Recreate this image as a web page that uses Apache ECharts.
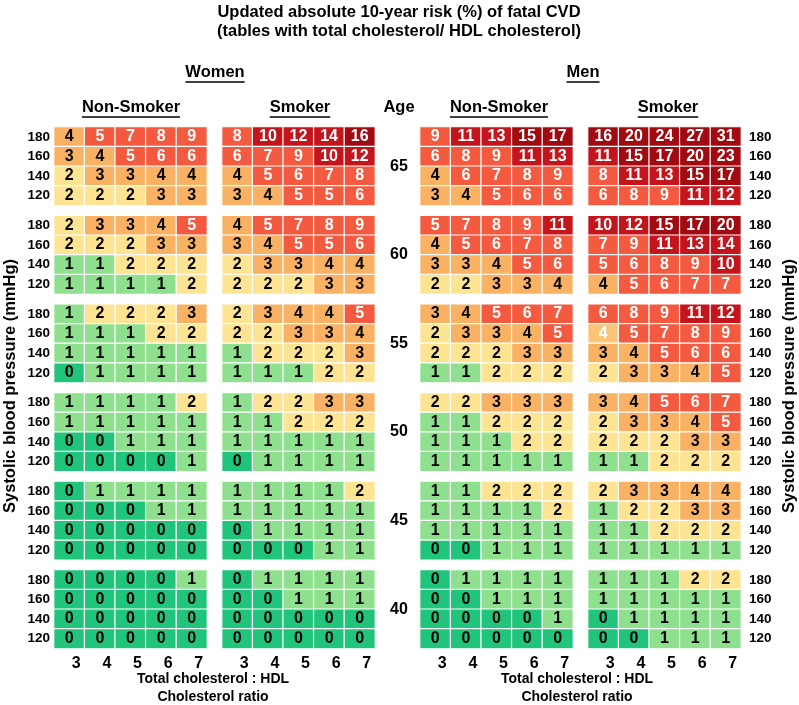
<!DOCTYPE html>
<html><head><meta charset="utf-8">
<script src="https://cdn.jsdelivr.net/npm/echarts/dist/echarts.min.js"></script>
<style>html,body{margin:0;padding:0;background:#fff}#c{width:799px;height:705px}</style>
</head><body><div id="c"></div>
<script>
// ---------- DATA ----------
const ages = ['65', '60', '55', '50', '45', '40'];
const sbpLevels = ['120', '140', '160', '180'];          // y axis, bottom to top
const ratios = ['3', '4', '5', '6', '7'];                // x axis
// each table: rows top to bottom = SBP 180, 160, 140, 120; columns = ratio 3..7
const womenNonSmoker65 = [[4,5,7,8,9],[3,4,5,6,6],[2,3,3,4,4],[2,2,2,3,3]];
const womenNonSmoker60 = [[2,3,3,4,5],[2,2,2,3,3],[1,1,2,2,2],[1,1,1,1,2]];
const womenNonSmoker55 = [[1,2,2,2,3],[1,1,1,2,2],[1,1,1,1,1],[0,1,1,1,1]];
const womenNonSmoker50 = [[1,1,1,1,2],[1,1,1,1,1],[0,0,1,1,1],[0,0,0,0,1]];
const womenNonSmoker45 = [[0,1,1,1,1],[0,0,0,1,1],[0,0,0,0,0],[0,0,0,0,0]];
const womenNonSmoker40 = [[0,0,0,0,1],[0,0,0,0,0],[0,0,0,0,0],[0,0,0,0,0]];

const womenSmoker65 = [[8,10,12,14,16],[6,7,9,10,12],[4,5,6,7,8],[3,4,5,5,6]];
const womenSmoker60 = [[4,5,7,8,9],[3,4,5,5,6],[2,3,3,4,4],[2,2,2,3,3]];
const womenSmoker55 = [[2,3,4,4,5],[2,2,3,3,4],[1,2,2,2,3],[1,1,1,2,2]];
const womenSmoker50 = [[1,2,2,3,3],[1,1,2,2,2],[1,1,1,1,1],[0,1,1,1,1]];
const womenSmoker45 = [[1,1,1,1,2],[1,1,1,1,1],[0,1,1,1,1],[0,0,0,1,1]];
const womenSmoker40 = [[0,1,1,1,1],[0,0,1,1,1],[0,0,0,0,0],[0,0,0,0,0]];

const menNonSmoker65 = [[9,11,13,15,17],[6,8,9,11,13],[4,6,7,8,9],[3,4,5,6,6]];
const menNonSmoker60 = [[5,7,8,9,11],[4,5,6,7,8],[3,3,4,5,6],[2,2,3,3,4]];
const menNonSmoker55 = [[3,4,5,6,7],[2,3,3,4,5],[2,2,2,3,3],[1,1,2,2,2]];
const menNonSmoker50 = [[2,2,3,3,3],[1,1,2,2,2],[1,1,1,2,2],[1,1,1,1,1]];
const menNonSmoker45 = [[1,1,2,2,2],[1,1,1,1,2],[1,1,1,1,1],[0,0,1,1,1]];
const menNonSmoker40 = [[0,1,1,1,1],[0,0,1,1,1],[0,0,0,0,1],[0,0,0,0,0]];

const menSmoker65 = [[16,20,24,27,31],[11,15,17,20,23],[8,11,13,15,17],[6,8,9,11,12]];
const menSmoker60 = [[10,12,15,17,20],[7,9,11,13,14],[5,6,8,9,10],[4,5,6,7,7]];
const menSmoker55 = [[6,8,9,11,12],[4,5,7,8,9],[3,4,5,6,6],[2,3,3,4,5]];
const menSmoker50 = [[3,4,5,6,7],[2,3,3,4,5],[2,2,2,3,3],[1,1,2,2,2]];
const menSmoker45 = [[2,3,3,4,4],[1,2,2,3,3],[1,1,2,2,2],[1,1,1,1,1]];
const menSmoker40 = [[1,1,1,2,2],[1,1,1,1,1],[0,1,1,1,1],[0,0,1,1,1]];

const panelTables = [
  [womenNonSmoker65, womenNonSmoker60, womenNonSmoker55, womenNonSmoker50, womenNonSmoker45, womenNonSmoker40],
  [womenSmoker65, womenSmoker60, womenSmoker55, womenSmoker50, womenSmoker45, womenSmoker40],
  [menNonSmoker65, menNonSmoker60, menNonSmoker55, menNonSmoker50, menNonSmoker45, menNonSmoker40],
  [menSmoker65, menSmoker60, menSmoker55, menSmoker50, menSmoker45, menSmoker40]
];

// ---------- STYLE / LAYOUT ----------
const FONT = '"Liberation Sans", Arial, Helvetica, sans-serif';
const panelLeft = [54, 222, 420, 588];
const panelWidth = 153;
const blockTop0 = 127, blockStep = 88.6, blockHeight = 78.5;

function cellColor(v) {
  if (v <= 0) return '#21C47B';
  if (v === 1) return '#8FE08E';
  if (v === 2) return '#FCE493';
  if (v <= 4) return '#F9B263';
  if (v <= 9) return '#F45A3F';
  if (v <= 14) return '#C3151B';
  return '#A00A10';
}

const grids = [], xAxes = [], yAxes = [], series = [];
panelTables.forEach((tables, p) => {
  tables.forEach((table, b) => {
    const i = p * 6 + b;
    const top = blockTop0 + b * blockStep;
    grids.push({left: panelLeft[p], top: top, width: panelWidth, height: blockHeight});
    xAxes.push({
      gridIndex: i, type: 'category', data: ratios,
      axisLine: {show: false}, axisTick: {show: false}, splitLine: {show: false},
      axisLabel: {show: b === 5, margin: 7, color: '#000', fontSize: 16, fontWeight: 'bold',
                  fontFamily: FONT, padding: [0, 0, 0, 14]}
    });
    yAxes.push({
      gridIndex: i, type: 'category', data: sbpLevels, position: p === 3 ? 'right' : 'left',
      axisLine: {show: false}, axisTick: {show: false}, splitLine: {show: false},
      axisLabel: {show: p === 0 || p === 3, margin: p === 0 ? 4 : 8, color: '#000',
                  fontSize: 13.5, fontWeight: 'bold', fontFamily: FONT}
    });
    const items = [];
    table.forEach((row, r) => {
      row.forEach((v, c) => {
        let col = cellColor(v);
        let txt = v >= 5 ? '#fff' : '#000';
        if (p === 3 && b === 2 && r === 1 && c === 0) { col = '#FAC577'; txt = '#fff'; }
        items.push({value: [c, 3 - r, v], itemStyle: {color: col}, label: {color: txt}});
      });
    });
    series.push({
      type: 'heatmap', xAxisIndex: i, yAxisIndex: i, data: items,
      label: {show: true, fontSize: 16, fontWeight: 'bold', fontFamily: FONT,
              formatter: (pr) => String(pr.value[2])},
      itemStyle: {borderColor: '#fff', borderWidth: 1.2},
      emphasis: {disabled: true}, silent: true
    });
  });
});

// text helpers
const mctx = document.createElement('canvas').getContext('2d');
function tw(text, font) { mctx.font = font; return mctx.measureText(text).width; }
const graphics = [];
function addText(text, x, y, size, underline) {
  const font = 'bold ' + size + 'px ' + FONT;
  graphics.push({type: 'text', x: x, y: y, silent: true,
    style: {text: text, x: 0, y: 0, font: font, fill: '#000',
            align: 'center', verticalAlign: 'middle', textAlign: 'center', textVerticalAlign: 'middle'}});
  if (underline) {
    const w = tw(text, font);
    graphics.push({type: 'line', silent: true,
      shape: {x1: x - w / 2, y1: y + size * 0.6, x2: x + w / 2, y2: y + size * 0.6},
      style: {stroke: '#000', lineWidth: 1.5}});
  }
}
addText('Updated absolute 10-year risk (%) of fatal CVD', 399, 12, 16.5, false);
addText('(tables with total cholesterol/ HDL cholesterol)', 399, 31, 16.5, false);
addText('Women', 215, 72, 16.5, true);
addText('Men', 583, 72, 16.5, true);
addText('Non-Smoker', 131, 107, 16.5, true);
addText('Smoker', 300, 107, 16.5, true);
addText('Age', 399, 107, 16.5, false);
addText('Non-Smoker', 499, 107, 16.5, true);
addText('Smoker', 668, 107, 16.5, true);
ages.forEach((a, b) => addText(a, 399, blockTop0 + b * blockStep + blockHeight / 2, 16, false));
addText('Total cholesterol : HDL', 213, 679, 14, false);
addText('Cholesterol ratio', 213, 697, 14, false);
addText('Total cholesterol : HDL', 577, 679, 14, false);
addText('Cholesterol ratio', 577, 697, 14, false);
[10, 789].forEach(x => {
  graphics.push({type: 'text', x: x, y: 386, rotation: Math.PI / 2, silent: true,
    style: {text: 'Systolic blood pressure (mmHg)', x: 0, y: 0, font: 'bold 16.5px ' + FONT, fill: '#000',
            align: 'center', verticalAlign: 'middle', textAlign: 'center', textVerticalAlign: 'middle'}});
});

const chart = echarts.init(document.getElementById('c'), null, {renderer: 'canvas'});
chart.setOption({
  animation: false,
  backgroundColor: '#fff',
  grid: grids, xAxis: xAxes, yAxis: yAxes, series: series,
  graphic: graphics
});
</script>
</body></html>
